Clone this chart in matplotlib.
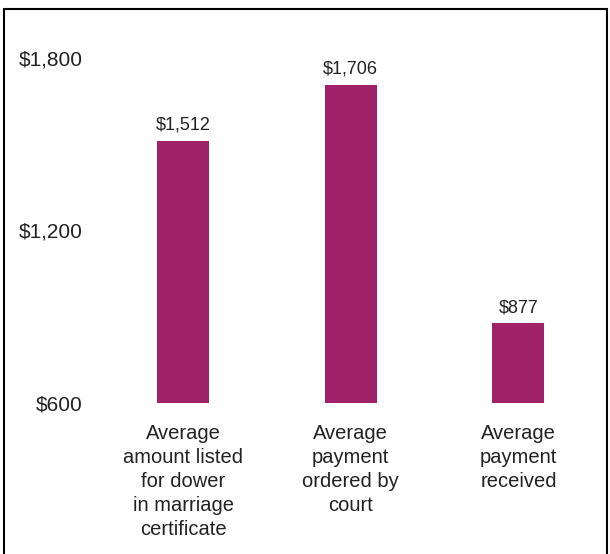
import matplotlib.pyplot as plt
from matplotlib.patches import Rectangle

categories = ['Average\namount listed\nfor dower\nin marriage\ncertificate',
              'Average\npayment\nordered by\ncourt',
              'Average\npayment\nreceived']
values = [1512, 1706, 877]
yticks = [600, 1200, 1800]

bar_color = '#9f2167'
text_color = '#222222'

plt.rcParams['font.family'] = ['Liberation Sans', 'DejaVu Sans']

fig = plt.figure(figsize=(6.1, 5.54), dpi=100)
ax = fig.add_axes([0.1627, 0.2726, 0.8246, 0.6227])

x = range(len(values))
bars = ax.bar(x, values, width=0.31, color=bar_color, bottom=0)
ax.set_ylim(600, 1800)
ax.set_xlim(-0.5, 2.5)

for b, v in zip(bars, values):
    ax.text(b.get_x() + b.get_width() / 2, v + 25, '${:,}'.format(v),
            ha='center', va='bottom', fontsize=13, color=text_color, clip_on=False)

ax.set_yticks(yticks)
ax.set_yticklabels(['${:,}'.format(t) for t in yticks], fontsize=15, color=text_color)
ax.set_xticks(list(x))
ax.set_xticklabels(categories, fontsize=14.5, color=text_color, va='top', linespacing=1.33)
ax.tick_params(axis='both', length=0)
ax.tick_params(axis='y', pad=12)
ax.tick_params(axis='x', pad=15)

for s in ax.spines.values():
    s.set_visible(False)

# frame round the figure (open at the bottom)
fig.patches.append(Rectangle((4 / 610, -0.1), 603 / 610, 0.1 + (554 - 9) / 554,
                             transform=fig.transFigure, fill=False,
                             edgecolor='black', linewidth=1.5))

fig.savefig('out.png', dpi=100)
